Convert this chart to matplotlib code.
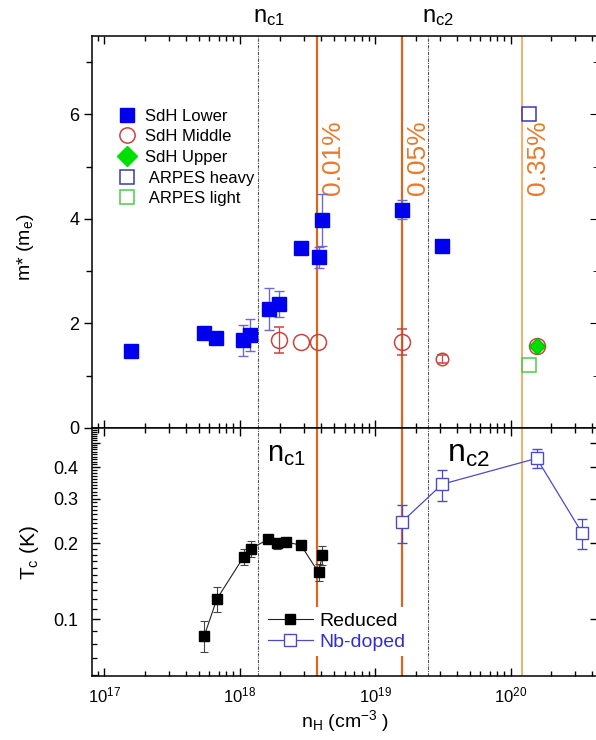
import numpy as np
import matplotlib
matplotlib.use("Agg")
import matplotlib.pyplot as plt
from matplotlib.lines import Line2D
from matplotlib.ticker import FixedLocator, FixedFormatter, LogLocator, NullFormatter

plt.rcParams['font.family'] = ['Liberation Sans', 'DejaVu Sans']
plt.rcParams['mathtext.fontset'] = 'custom'
plt.rcParams['mathtext.rm'] = 'Liberation Sans'
plt.rcParams['mathtext.it'] = 'Liberation Sans:italic'
plt.rcParams['mathtext.bf'] = 'Liberation Sans:bold'

# ---- effective mass (upper panel) ----
sdh_lower_n = [1.57e17, 5.5e17, 6.7e17, 1.06e18, 1.2e18, 1.65e18, 1.94e18,
               2.84e18, 3.85e18, 4.08e18, 1.585e19, 3.13e19]
sdh_lower_m = [1.48, 1.82, 1.73, 1.68, 1.78, 2.27, 2.37, 3.45, 3.27, 3.98, 4.18, 3.48]
sdh_lower_err = [0, 0, 0, 0.3, 0.3, 0.4, 0.25, 0.07, 0.2, 0.5, 0.18, 0]

sdh_middle_n = [1.94e18, 2.84e18, 3.8e18, 1.585e19, 3.13e19, 1.56e20]
sdh_middle_m = [1.68, 1.64, 1.65, 1.65, 1.32, 1.57]
sdh_middle_err = [0.25, 0, 0, 0.25, 0.08, 0]

sdh_upper_n = [1.56e20]
sdh_upper_m = [1.57]

arpes_heavy_n = [1.38e20]
arpes_heavy_m = [6.0]
arpes_light_n = [1.38e20]
arpes_light_m = [1.2]

# ---- superconducting Tc (lower panel) ----
reduced_n = [5.5e17, 6.8e17, 1.07e18, 1.21e18, 1.63e18, 1.88e18, 2.21e18,
             2.84e18, 3.83e18, 4.09e18]
reduced_tc = [0.086, 0.120, 0.176, 0.190, 0.207, 0.200, 0.202, 0.196, 0.153, 0.179]
reduced_err = [0.012, 0.0135, 0.013, 0.014, 0.005, 0.01, 0.005, 0.005, 0.012, 0.016]

nb_n = [1.585e19, 3.13e19, 1.56e20, 3.36e20]
nb_tc = [0.243, 0.342, 0.433, 0.220]
nb_err_lo = [0.043, 0.049, 0.035, 0.030]
nb_err_hi = [0.040, 0.047, 0.038, 0.029]

# ---- reference densities ----
critical_n = [1.377e18, 2.46e19]
critical_labels = [r'$\mathregular{n_{c1}}$', r'$\mathregular{n_{c2}}$']
nb_content_n = [3.72e18, 1.585e19, 1.21e20]
nb_content_labels = ['0.01%', '0.05%', '0.35%']

ORANGE_DARK = '#D8681F'
ORANGE_LIGHT = '#EF9A40'
ORANGE_TEXT = '#E87A2C'
BLUE = '#0000EE'
BLUE_ERR = '#6C6CC8'
RED = '#C8443E'
NB_BLUE = '#4B4BC4'

W, H = 596, 740
fig = plt.figure(figsize=(W / 100, H / 100), dpi=100)
left, right = 92, 598
ax1 = fig.add_axes([left / W, 1 - 428 / H, (right - left) / W, 392 / H])
ax2 = fig.add_axes([left / W, 1 - 676 / H, (right - left) / W, 248 / H])

xlim = (8.15e16, 4.42e20)
for ax in (ax1, ax2):
    ax.set_xscale('log')
    ax.set_xlim(*xlim)
    for s in ax.spines.values():
        s.set_linewidth(1.1)
    for xc in critical_n:
        ax.axvline(xc, color='#555555', lw=0.8, ls=(0, (3, 1, 1, 1)), zorder=1)
    for i, xn in enumerate(nb_content_n):
        if i < 2:
            ax.axvline(xn, color=ORANGE_DARK, lw=1.6, zorder=1.5)
        else:
            ax.axvline(xn, color=ORANGE_LIGHT, lw=1.1, zorder=1.5)

# ---------- upper panel ----------
ax1.set_ylim(0, 7.5)
ax1.errorbar(sdh_lower_n, sdh_lower_m, yerr=sdh_lower_err, fmt='s', ms=10,
             mfc=BLUE, mec=BLUE, ecolor=BLUE_ERR, elinewidth=1, capsize=3.5,
             capthick=1, zorder=4)
for i, (xn, ym, ye) in enumerate(zip(sdh_middle_n, sdh_middle_m, sdh_middle_err)):
    ax1.errorbar([xn], [ym], yerr=[ye] if ye > 0 else None, fmt='o',
                 ms=9 if i == 4 else 11.5,
                 mfc='none', mec=RED, mew=1.1, ecolor=RED, elinewidth=0.9,
                 capsize=3.5, capthick=0.9, zorder=4)
ax1.plot(sdh_upper_n, sdh_upper_m, 'D', ms=8.5, mfc='#00E000', mec='#00C000',
         zorder=5, ls='none')
ax1.plot(arpes_heavy_n, arpes_heavy_m, 's', ms=9.5, mfc='none', mec='#3A3AB0',
         mew=1.1, ls='none', zorder=4)
ax1.plot(arpes_light_n, arpes_light_m, 's', ms=9.5, mfc='none', mec='#4CCC4C',
         mew=1.1, ls='none', zorder=4)

ax1.yaxis.set_major_locator(FixedLocator([0, 2, 4, 6]))
ax1.yaxis.set_minor_locator(FixedLocator([1, 3, 5, 7]))
ax1.tick_params(axis='y', which='both', direction='out', left=True, right=False,
                labelsize=13, pad=3)
ax1.tick_params(axis='y', which='major', length=6, width=1)
ax1.tick_params(axis='y', which='minor', length=4, width=1)
ax1.tick_params(axis='x', which='both', direction='in', top=True, bottom=True,
                labelbottom=False)
ax1.tick_params(axis='x', which='major', length=6, width=1)
ax1.tick_params(axis='x', which='minor', length=3.5, width=1)
sec = ax1.secondary_yaxis('right')
sec.yaxis.set_major_locator(FixedLocator([0, 2, 4, 6]))
sec.yaxis.set_minor_locator(FixedLocator([1, 3, 5, 7]))
sec.tick_params(which='both', direction='in', labelright=False)
sec.tick_params(which='major', length=6)
sec.tick_params(which='minor', length=3.5)

ax1.set_ylabel(r'm* (m$_\mathregular{e}$)', fontsize=14)
ax1.yaxis.set_label_coords(-0.11, 0.46)

legend_handles = [
    Line2D([], [], marker='s', ls='none', ms=10, mfc=BLUE, mec=BLUE),
    Line2D([], [], marker='o', ls='none', ms=11, mfc='none', mec=RED, mew=1.1),
    Line2D([], [], marker='D', ls='none', ms=10, mfc='#00E000', mec='#00E000'),
    Line2D([], [], marker='s', ls='none', ms=10, mfc='none', mec='#3A3AB0', mew=1.1),
    Line2D([], [], marker='s', ls='none', ms=10, mfc='none', mec='#4CCC4C', mew=1.1),
]
legend_labels = ['SdH Lower', 'SdH Middle', 'SdH Upper', ' ARPES heavy', ' ARPES light']
ax1.legend(legend_handles, legend_labels, loc='upper left',
           bbox_to_anchor=(0.053, 0.815), frameon=False, fontsize=12,
           handlelength=1.0, handletextpad=0.6, labelspacing=0.34,
           borderpad=0, borderaxespad=0)

for xn, lab in zip(nb_content_n, nb_content_labels):
    ax1.annotate(lab, xy=(xn, 5.18), xytext=(3, 0), textcoords='offset points',
                 rotation=90, ha='left', va='center', fontsize=19,
                 color=ORANGE_TEXT)

for xc, lab in zip(critical_n, critical_labels):
    ax1.annotate(lab, xy=(xc, 1.0), xycoords=('data', 'axes fraction'),
                 xytext=(-4, 6), textcoords='offset points', ha='left',
                 va='bottom', fontsize=17)

# ---------- lower panel ----------
ax2.set_yscale('log')
ax2.set_ylim(0.0595, 0.571)
ax2.errorbar(reduced_n, reduced_tc, yerr=reduced_err, fmt='-s', color='#222222',
             lw=0.8, ms=7.5, mfc='black', mec='black', ecolor='#444444',
             elinewidth=0.8, capsize=3, capthick=0.8, zorder=4)
ax2.errorbar(nb_n, nb_tc, yerr=[nb_err_lo, nb_err_hi], fmt='-s', color=NB_BLUE,
             lw=0.9, ms=8, mfc='white', mec=NB_BLUE, mew=1, ecolor=NB_BLUE,
             elinewidth=0.9, capsize=3.5, capthick=0.9, zorder=4)

majors = [0.1, 0.2, 0.3, 0.4, 0.5]
ax2.yaxis.set_major_locator(FixedLocator(majors))
ax2.yaxis.set_major_formatter(FixedFormatter(['0.1', '0.2', '0.3', '0.4', '']))
minors = [round(v, 2) for v in np.arange(0.06, 0.575, 0.01)
          if round(v, 2) not in majors]
ax2.yaxis.set_minor_locator(FixedLocator(minors))
ax2.yaxis.set_minor_formatter(NullFormatter())
ax2.tick_params(axis='y', which='both', direction='in', left=True, right=True,
                labelsize=13, pad=10)
ax2.tick_params(axis='y', which='major', length=6, width=1)
ax2.tick_params(axis='y', which='minor', length=3.5, width=0.9, right=False)

ax2.xaxis.set_major_locator(LogLocator(base=10, numticks=10))
ax2.xaxis.set_minor_locator(LogLocator(base=10, subs=np.arange(2, 10), numticks=20))
ax2.xaxis.set_minor_formatter(NullFormatter())
ax2.tick_params(axis='x', which='both', direction='in', top=True, bottom=True,
                labelsize=12, pad=7)
ax2.tick_params(axis='x', which='major', length=6, width=1)
ax2.tick_params(axis='x', which='minor', length=3.5, width=1)

ax2.set_ylabel(r'T$_\mathregular{c}$ (K)', fontsize=15)
ax2.yaxis.set_label_coords(-0.10, 0.5)
ax2.set_xlabel(r'n$_\mathregular{H}$ (cm$^{\mathregular{-3}}$ )', fontsize=14,
               labelpad=2)

ax2.annotate(critical_labels[0], xy=(critical_n[0], 0.45), xytext=(6, 0),
             textcoords='offset points', ha='left', va='center', fontsize=21)
ax2.annotate(critical_labels[1], xy=(critical_n[1], 0.45), xytext=(14, 0),
             textcoords='offset points', ha='left', va='center', fontsize=23)

tc_handles = [
    Line2D([], [], color='#222222', lw=0.8, marker='s', ms=7.5, mfc='black',
           mec='black'),
    Line2D([], [], color=NB_BLUE, lw=0.9, marker='s', ms=8, mfc='white',
           mec=NB_BLUE, mew=1),
]
leg = ax2.legend(tc_handles, ['Reduced', 'Nb-doped'], loc='upper left',
                 bbox_to_anchor=(0.338, 0.278), fontsize=14, handlelength=2.3,
                 handletextpad=0.35, labelspacing=0.2, borderpad=0.25,
                 borderaxespad=0, frameon=True, fancybox=False,
                 facecolor='white', edgecolor='none', framealpha=1)
leg.get_texts()[1].set_color('#3030C8')

fig.savefig('out.png', dpi=100)
